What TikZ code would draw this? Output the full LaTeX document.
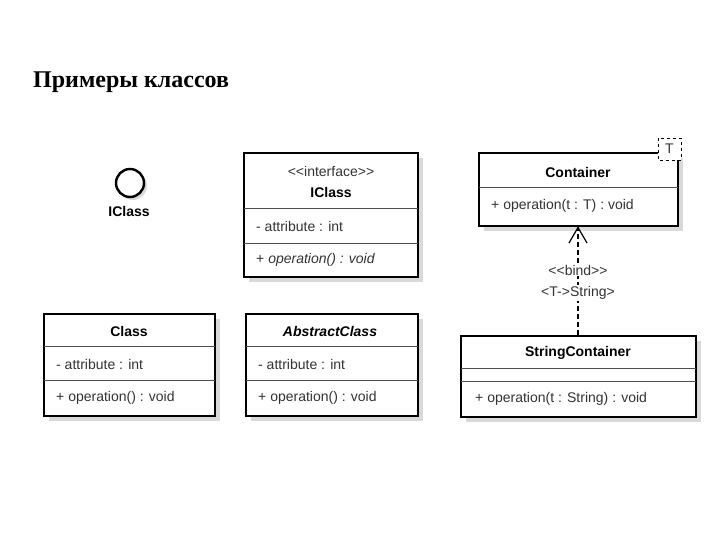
\documentclass[tikz,border=0pt]{standalone}
\usepackage{fontspec}
\setmainfont{Liberation Sans}
\newfontfamily\titlefont{Liberation Serif}
\begin{document}
\begin{tikzpicture}[x=1pt,y=-1pt,
  txt/.style={font=\fontsize{14}{16}\selectfont, inner sep=0pt},
  hd/.style={txt, font=\fontsize{14}{16}\selectfont\bfseries},
  frame/.style={line width=2.4pt},
  dv/.style={line width=0.8pt, black!70}]
\useasboundingbox (0,0) rectangle (720,540);
\node[anchor=base west, inner sep=0pt, font=\titlefont\fontsize{24}{28}\selectfont\bfseries] (title) at (33,88) {Примеры классов};
% lollipop
\fill[black!15] (133,186) circle (14);
\draw[line width=2.4pt, fill=white] (130,183) circle (14) coordinate (c);
\node[hd] (il) at (129,211) {IClass};
\newcommand\umlbox[4]{\fill[black!15] (#1+5,#2+5) rectangle (#3+5,#4+5);
  \draw[frame, fill=white] (#1,#2) rectangle (#3,#4);}
% IClass
\umlbox{244}{153}{418}{277}
\draw[dv] (244,208) -- (418,208); \draw[dv] (244,243) -- (418,243);
\node[txt, text=black!80] (st) at (331,171) {{<}{<}interface{>}{>}};
\node[hd] (ic) at (331,192) {IClass};
\node[txt, anchor=west, text=black!80] (ia) at (256,226) {- attribute : int};
\node[txt, anchor=west, text=black!80] (io) at (256,260) {+ \textit{operation() : void}};
% Class
\umlbox{44}{314}{215}{416}
\draw[dv] (44,346) -- (215,346); \draw[dv] (44,380) -- (215,380);
\node[hd] (cn) at (129,331) {Class};
\node[txt, anchor=west, text=black!80] (ca) at (56,364) {- attribute : int};
\node[txt, anchor=west, text=black!80] (co) at (56,398) {+ operation() : void};
% AbstractClass
\umlbox{246}{314}{418}{416}
\draw[dv] (246,346) -- (418,346); \draw[dv] (246,380) -- (418,380);
\node[hd, font=\fontsize{14}{16}\selectfont\bfseries\itshape] (an) at (330,331) {AbstractClass};
\node[txt, anchor=west, text=black!80] (aa) at (258,364) {- attribute : int};
\node[txt, anchor=west, text=black!80] (ao) at (258,398) {+ operation() : void};
% Container
\umlbox{479}{153}{678}{226}
\draw[dv] (479,187) -- (678,187);
\node[hd] (kn) at (578,172) {Container};
\node[txt, anchor=west, text=black!80] (ko) at (491,206) {+ operation(t : T) : void};
\draw[dashed, fill=white, line width=0.8pt] (658,138) rectangle (681,160);
\node[txt, text=black!80] (tp) at (669.5,149) {T};
% StringContainer
\umlbox{461}{336}{696}{417}
\draw[dv] (461,368) -- (696,368); \draw[dv] (461,381) -- (696,381);
\node[hd] (sn) at (578,353) {StringContainer};
\node[txt, anchor=west, text=black!80] (so) at (475,399) {+ operation(t : String) : void};
% bind
\coordinate (top) at (578,227.5);
\coordinate (bot) at (578,334.5);
\draw[line width=1.6pt, dash pattern=on 5pt off 3pt] (bot) -- (top);
\draw[line width=1.2pt] (569,243) -- (top) -- (587,243);
\node[txt, text=black!80, fill=white, inner sep=1pt] (b1) at (578,270) {{<}{<}bind{>}{>}};
\node[txt, text=black!80, fill=white, inner sep=1pt] (b2) at (578,293) {<T->String>};
\end{tikzpicture}
\end{document}
